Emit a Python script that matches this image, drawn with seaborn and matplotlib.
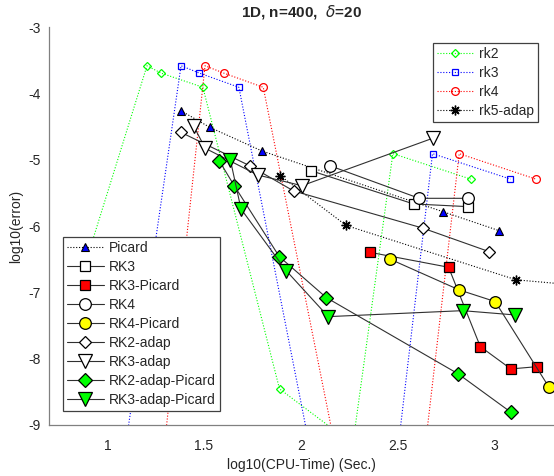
import matplotlib
matplotlib.use("Agg")
import matplotlib.pyplot as plt
import seaborn as sns

# ---------------- data ----------------
rk2_x = [0.84, 1.205, 1.277, 1.494, 1.890, 2.269, 2.476, 2.878]
rk2_y = [-7.0, -3.58, -3.69, -3.905, -8.455, -9.287, -4.906, -5.29]

rk3_x = [0.88, 1.381, 1.475, 1.680, 2.333, 2.681, 3.084]
rk3_y = [-13.6, -3.58, -3.69, -3.905, -13.58, -4.906, -5.29]

rk4_x = [1.138, 1.505, 1.601, 1.806, 2.472, 2.819, 3.215]
rk4_y = [-13.6, -3.58, -3.69, -3.905, -13.63, -4.906, -5.29]

rk5a_x = [1.894, 2.235, 3.114, 3.50]
rk5a_y = [-5.238, -5.99, -6.81, -6.91]

picard_x = [1.380, 1.529, 1.799, 2.733, 3.027]
picard_y = [-4.258, -4.508, -4.866, -5.78, -6.07]

RK3_x = [2.052, 2.583, 2.867]
RK3_y = [-5.163, -5.665, -5.706]

RK3P_x = [2.356, 2.764, 2.928, 3.086, 3.221]
RK3P_y = [-6.394, -6.62, -7.817, -8.154, -8.12]

RK4_x = [2.152, 2.612, 2.867]
RK4_y = [-5.09, -5.58, -5.58]

RK4P_x = [2.463, 2.819, 3.005, 3.281]
RK4P_y = [-6.5, -6.962, -7.138, -8.42]

RK2A_x = [1.380, 1.735, 1.963, 2.631, 2.974]
RK2A_y = [-4.584, -5.087, -5.469, -6.03, -6.385]

RK3A_x = [1.446, 1.506, 1.777, 2.006, 2.681]
RK3A_y = [-4.489, -4.825, -5.228, -5.39, -4.675]

RK2AP_x = [1.579, 1.656, 1.889, 2.132, 2.814, 3.086]
RK2AP_y = [-5.017, -5.389, -6.46, -7.078, -8.229, -8.807]

RK3AP_x = [1.636, 1.691, 1.924, 2.142, 2.836, 3.109]
RK3AP_y = [-5.0, -5.741, -6.67, -7.365, -7.275, -7.34]

x_ticks = [1, 1.5, 2, 2.5, 3]
x_ticklabels = ["1", "1.5", "2", "2.5", "3"]
y_ticks = [-9, -8, -7, -6, -5, -4, -3]
y_ticklabels = ["-9", "-8", "-7", "-6", "-5", "-4", "-3"]

title = r"1D, n=400,  $\delta$=20"
xlabel = "log10(CPU-Time) (Sec.)"
ylabel = "log10(error)"

# ---------------- style ----------------
sns.set_style("white")
plt.rcParams["font.family"] = ["Liberation Sans", "DejaVu Sans"]
plt.rcParams["mathtext.fontset"] = "dejavusans"
plt.rcParams["font.size"] = 10

fig = plt.figure(figsize=(5.54, 4.76), dpi=100)
W, H = 554, 476
x0, x1, y0, y1 = 49.3, 554, 27.3, 425
ax = fig.add_axes([x0 / W, 1 - y1 / H, (x1 - x0) / W, (y1 - y0) / H])

DOT = (0, (1, 1.6))
SOLID_C = "#303030"


def draw(x, y, label, **kw):
    sns.lineplot(x=x, y=y, ax=ax, sort=False, estimator=None,
                 legend=False, label=label, **kw)
    return ax.lines[-1]


h = {}
# dotted reference series
h["rk2"] = draw(rk2_x, rk2_y, "rk2", color="#00ff00", linestyle=DOT, lw=0.8,
                marker="D", markersize=4.0, markerfacecolor="none",
                markeredgecolor="#00ff00", markeredgewidth=0.9)
h["rk3"] = draw(rk3_x, rk3_y, "rk3", color="#0000ff", linestyle=DOT, lw=0.8,
                marker="s", markersize=4.8, markerfacecolor="none",
                markeredgecolor="#0000ff", markeredgewidth=0.9)
h["rk4"] = draw(rk4_x, rk4_y, "rk4", color="#ff0000", linestyle=DOT, lw=0.8,
                marker="o", markersize=5.6, markerfacecolor="none",
                markeredgecolor="#ff0000", markeredgewidth=0.9)
h["rk5"] = draw(rk5a_x, rk5a_y, "rk5-adap", color="#000000", linestyle=DOT, lw=0.8,
                marker=(8, 2, 0), markersize=7, markerfacecolor="none",
                markeredgecolor="#000000", markeredgewidth=1.0)
h["picard"] = draw(picard_x, picard_y, "Picard", color="#000000", linestyle=DOT, lw=0.8,
                   marker="^", markersize=6.2, markerfacecolor="#0000ff",
                   markeredgecolor="#000000", markeredgewidth=0.8)

sol = dict(color=SOLID_C, linestyle="-", lw=0.8, markeredgecolor="#000000",
           markeredgewidth=0.9)
h["RK3"] = draw(RK3_x, RK3_y, "RK3", marker="s", markersize=7.5,
                markerfacecolor="white", **sol)
h["RK3P"] = draw(RK3P_x, RK3P_y, "RK3-Picard", marker="s", markersize=7.5,
                 markerfacecolor="#ff0000", **sol)
h["RK4"] = draw(RK4_x, RK4_y, "RK4", marker="o", markersize=8.4,
                markerfacecolor="white", **sol)
h["RK4P"] = draw(RK4P_x, RK4P_y, "RK4-Picard", marker="o", markersize=8.4,
                 markerfacecolor="#ffff00", **sol)
h["RK2A"] = draw(RK2A_x, RK2A_y, "RK2-adap", marker="D", markersize=6.5,
                 markerfacecolor="white", **sol)
h["RK3A"] = draw(RK3A_x, RK3A_y, "RK3-adap", marker="v", markersize=10,
                 markerfacecolor="white", **sol)
h["RK2AP"] = draw(RK2AP_x, RK2AP_y, "RK2-adap-Picard", marker="D", markersize=7.0,
                  markerfacecolor="#00ff00", **sol)
h["RK3AP"] = draw(RK3AP_x, RK3AP_y, "RK3-adap-Picard", marker="v", markersize=10,
                  markerfacecolor="#00ff00", **sol)

ax.set_xlim(0.7, 3.309)
ax.set_ylim(-9, -3)
ax.set_xticks(x_ticks)
ax.set_xticklabels(x_ticklabels)
ax.set_yticks(y_ticks)
ax.set_yticklabels(y_ticklabels)
ax.tick_params(direction="in", length=4, width=0.8, colors="#808080",
               labelcolor="#262626", labelsize=10)
ax.tick_params(axis="x", pad=10)
ax.tick_params(axis="y", pad=6)
for s in ["top", "right"]:
    ax.spines[s].set_visible(False)
for s in ["left", "bottom"]:
    ax.spines[s].set_color("#808080")
    ax.spines[s].set_linewidth(0.9)

ax.set_title(title, fontsize=11, fontweight="bold", pad=8)
ax.set_xlabel(xlabel, fontsize=10, color="#262626", labelpad=4)
ax.set_ylabel(ylabel, fontsize=10, color="#262626", labelpad=4)

leg_kw = dict(fontsize=10, frameon=True, fancybox=False, framealpha=1,
              edgecolor="#404040", borderpad=0.3, labelspacing=0.36,
              handlelength=2.65, handletextpad=0.35, borderaxespad=0)

leg1 = ax.legend([h["rk2"], h["rk3"], h["rk4"], h["rk5"]],
                 ["rk2", "rk3", "rk4", "rk5-adap"],
                 loc="upper right", bbox_to_anchor=(0.968, 0.9605), **leg_kw)
leg1.get_frame().set_linewidth(0.9)
ax.add_artist(leg1)

keys2 = ["picard", "RK3", "RK3P", "RK4", "RK4P", "RK2A", "RK3A", "RK2AP", "RK3AP"]
labels2 = ["Picard", "RK3", "RK3-Picard", "RK4", "RK4-Picard", "RK2-adap",
           "RK3-adap", "RK2-adap-Picard", "RK3-adap-Picard"]
leg2 = ax.legend([h[k] for k in keys2], labels2,
                 loc="lower left", bbox_to_anchor=(0.027, 0.035), **leg_kw)
leg2.get_frame().set_linewidth(0.9)

fig.savefig("out.png", dpi=100)
